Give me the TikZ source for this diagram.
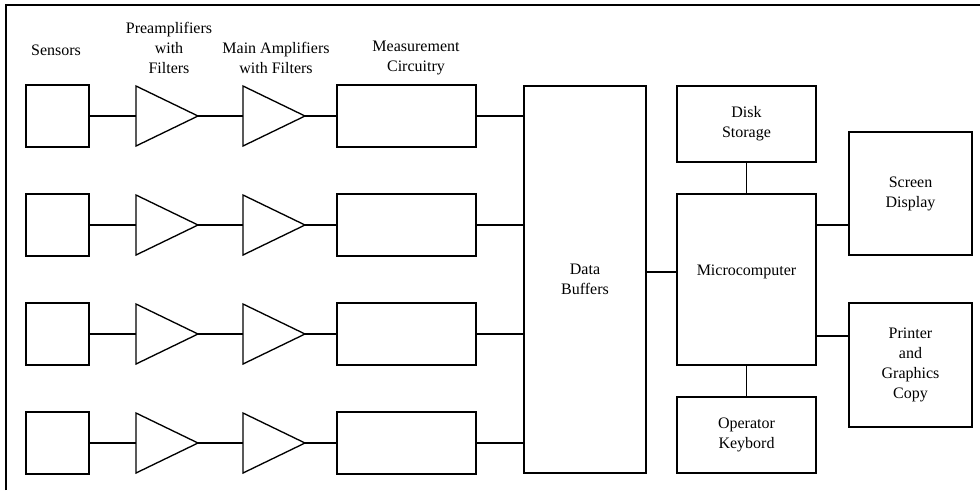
\documentclass[tikz,border=0pt]{standalone}
\usepackage{fontspec}
\setmainfont{Liberation Serif}
\usepackage{tikz}
\usetikzlibrary{positioning,shapes.geometric}
\tikzset{
	blk/.style={draw, line width=1pt, inner sep=0pt, outer sep=0pt, align=center,
		font=\fontsize{12}{15}\selectfont},
	sensbox/.style={blk, minimum width=47.25pt, minimum height=46.5pt},
	measbox/.style={blk, minimum width=104.25pt, minimum height=46.5pt},
	amp/.style={draw, line width=1pt, isosceles triangle, isosceles triangle stretches,
		shape border rotate=0, minimum width=45pt, minimum height=46.5pt,
		inner sep=0pt, outer sep=0pt, anchor=west},
	hdr/.style={align=center, inner sep=0pt, font=\fontsize{12}{15}\selectfont},
	wire/.style={line width=1pt}
}

\begin{document}
\begin{tikzpicture}[x=0.75pt, y=-0.75pt]
	\useasboundingbox (0,0) rectangle (980,490);
	\draw[line width=1.1pt] (6,490) -- (6,5) -- (980,5);

	% column headings
	\node[hdr] (hsens) at (56,50) {Sensors};
	\node[hdr] (hpre) at (169,48) {Preamplifiers\\with\\Filters};
	\node[hdr] (hmain) at (276,58) {Main Amplifiers\\with Filters};
	\node[hdr] (hmeas) at (416,58) {Measurement\\Circuitry};

	% computer side
	\node[blk, minimum width=91.5pt, minimum height=290.25pt] (buf) at (585,279.5) {Data\\Buffers};
	\node[blk, minimum width=104.25pt, minimum height=57pt] (disk) at (746.5,124) {Disk\\Storage};
	\node[blk, minimum width=104.25pt, minimum height=128.25pt,
		label={[name=mtext, font=\fontsize{12}{15}\selectfont, yshift=5.6pt]center:Microcomputer}] (micro) at (746.5,279.5) {};
	\node[blk, minimum width=104.25pt, minimum height=57pt] (keyb) at (746.5,435) {Operator\\Keybord};
	\node[blk, minimum width=92.25pt, minimum height=92.25pt] (screen) at (910.5,193.5) {Screen\\Display};
	\node[blk, minimum width=92.25pt, minimum height=93pt] (printer) at (910.5,365) {Printer\\and\\Graphics\\Copy};

	\coordinate (toscr) at (816,225);
	\coordinate (toprn) at (816,336);

	% one channel per row
	\foreach \r/\y in {1/116, 2/225, 3/334, 4/443} {
		\node[sensbox] (sens\r) at (57.5,\y) {};
		\node[amp] (pre\r) at (136,\y) {};
		\node[amp] (main\r) at (243,\y) {};
		\node[measbox] (meas\r) at (406.5,\y) {};
		\draw[wire] (sens\r) -- (pre\r);
		\draw[wire] (pre\r.east) -- (main\r);
		\draw[wire] (main\r.east) -- (meas\r);
		\draw[wire] (meas\r) -- (buf.west |- meas\r);
	}

	\draw[wire] (buf.east |- mtext) -- (micro.west |- mtext);
	\draw[wire] (disk) -- (micro);
	\draw[wire] (micro) -- (keyb);
	\draw[wire] (toscr) -- (screen.west |- toscr);
	\draw[wire] (toprn) -- (printer.west |- toprn);

\end{tikzpicture}
\end{document}
